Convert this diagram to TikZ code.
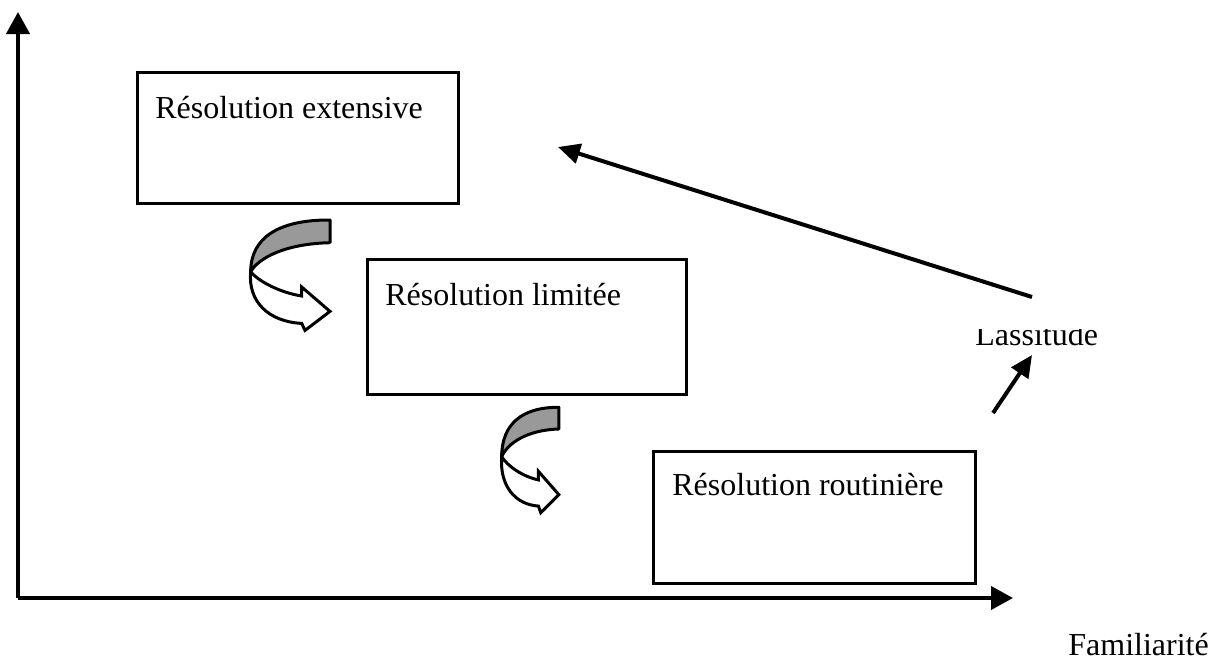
\documentclass[tikz,border=0pt]{standalone}
\usepackage{fontspec}
\setmainfont{Liberation Serif}
\usetikzlibrary{arrows.meta,calc}
\tikzset{
  box/.style={draw, line width=1.5pt, rectangle, anchor=north west, inner sep=0pt},
  txt/.style={font=\fontsize{16pt}{19pt}\selectfont, inner sep=0pt, anchor=base west},
  axis/.style={line width=2pt, -{Triangle[length=11pt,width=11.5pt]}},
  conn/.style={line width=2pt, -{Triangle[length=11pt,width=10pt]}},
  curvarrow/.pic={
    \filldraw[line width=1.5pt, fill=black!40, line join=round]
      (79.3,-51.7) .. controls (28,-52) and (0,-34) .. (0,0)
      .. controls (8,-14) and (35,-28) .. (79.3,-29) -- cycle;
    \filldraw[line width=1.5pt, fill=white, line join=miter]
      (0,0) .. controls (-3,30) and (18,50) .. (51,51.7) -- (54.3,58.7) -- (79.3,39.7)
      -- (51,15.3) -- (51,24.3) .. controls (30,21) and (8,10) .. (0,0) -- cycle;
  }
}
\begin{document}
\begin{tikzpicture}[x=0.5pt,y=-0.5pt]
\useasboundingbox (0,0) rectangle (1212,659);
% axes
\coordinate (O) at (18,598);
\coordinate (Ytip) at (18,12);
\coordinate (Xtip) at (1013,598);
\draw[axis] (O) -- (Ytip);
\draw[axis] (O) -- (Xtip);
% boxes
\node[box, minimum width=160.5pt, minimum height=65.5pt] (ext) at (136,71) {};
\node[box, minimum width=159.5pt, minimum height=67.5pt] (lim) at (366,258) {};
\node[box, minimum width=161pt, minimum height=66pt] (rout) at (652,450) {};
\node[txt] (extT) at (155,118) {Résolution extensive};
\node[txt] (limT) at (385,305) {Résolution limitée};
\node[txt] (routT) at (672,495) {Résolution routinière};
% curved arrows
\pic at (250.7,271.7) {curvarrow};
\pic[xscale=0.72, yscale=0.955] at (501.7,456.7) {curvarrow};
% lassitude
\begin{scope}
  \clip (960,329) rectangle (1120,365);
  \node[txt] (lass) at (975,345) {Lassitude};
\end{scope}
\coordinate (lstart) at (1032,297);
\coordinate (ltip) at (558,147);
\draw[conn] (lstart) -- (ltip);
\coordinate (sstart) at (993,413);
\coordinate (stip) at (1032,355);
\draw[conn] (sstart) -- (stip);
% axis label
\node[txt] (fam) at (1068,655) {Familiarité};
\end{tikzpicture}
\end{document}
